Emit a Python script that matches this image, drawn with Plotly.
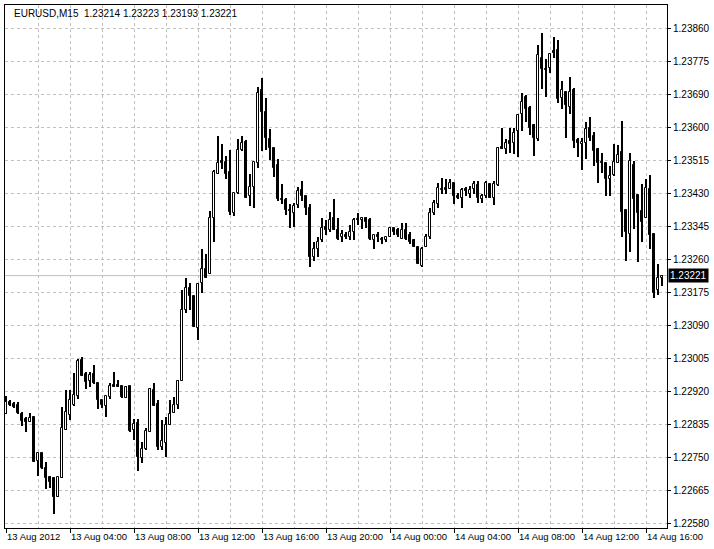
import pandas as pd
import plotly.graph_objects as go

# EURUSD M15, 13-14 Aug 2012
TIMES = pd.date_range("2012-08-13 00:00", periods=165, freq="15min")

OPEN = [
    1.22862, 1.22893, 1.22888, 1.22885, 1.22862, 1.22849, 1.22841, 1.22854, 1.22740, 1.22761,
    1.22722, 1.22699, 1.22696, 1.22647, 1.22696, 1.22820, 1.22859, 1.22885, 1.22908, 1.23002,
    1.22965, 1.22947, 1.22965, 1.22942, 1.22898, 1.22883, 1.22906, 1.22937, 1.22937, 1.22934,
    1.22903, 1.22934, 1.22820, 1.22839, 1.22748, 1.22771, 1.22815, 1.22924, 1.22888, 1.22777,
    1.22787, 1.22833, 1.22864, 1.22885, 1.22947, 1.23131, 1.23188, 1.23167, 1.23084, 1.23201,
    1.23237, 1.23226, 1.23369, 1.23485, 1.23519, 1.23516, 1.23490, 1.23382, 1.23436, 1.23547,
    1.23568, 1.23426, 1.23451, 1.23514, 1.23702, 1.23645, 1.23576, 1.23552, 1.23508, 1.23420,
    1.23418, 1.23392, 1.23384, 1.23405, 1.23444, 1.23428, 1.23397, 1.23268, 1.23291, 1.23312,
    1.23348, 1.23340, 1.23369, 1.23338, 1.23320, 1.23327, 1.23320, 1.23333, 1.23366, 1.23364,
    1.23371, 1.23366, 1.23314, 1.23327, 1.23317, 1.23312, 1.23320, 1.23345, 1.23338, 1.23317,
    1.23340, 1.23325, 1.23314, 1.23294, 1.23247, 1.23294, 1.23322, 1.23382, 1.23407, 1.23446,
    1.23449, 1.23446, 1.23462, 1.23428, 1.23423, 1.23446, 1.23433, 1.23446, 1.23457, 1.23420,
    1.23426, 1.23459, 1.23423, 1.23457, 1.23555, 1.23550, 1.23570, 1.23565, 1.23596, 1.23640,
    1.23684, 1.23656, 1.23612, 1.23576, 1.23785, 1.23757, 1.23759, 1.23803, 1.23806, 1.23682,
    1.23697, 1.23658, 1.23702, 1.23573, 1.23563, 1.23565, 1.23604, 1.23583, 1.23550, 1.23516,
    1.23514, 1.23472, 1.23482, 1.23514, 1.23542, 1.23392, 1.23330, 1.23508, 1.23431, 1.23389,
    1.23369, 1.23446, 1.23330, 1.23183, 1.23214,
]
HIGH = [
    1.22908, 1.22898, 1.22893, 1.22893, 1.22867, 1.22854, 1.22864, 1.22854, 1.22761, 1.22761,
    1.22738, 1.22702, 1.22696, 1.22699, 1.22880, 1.22924, 1.22924, 1.22968, 1.23004, 1.23009,
    1.22970, 1.22970, 1.22989, 1.22942, 1.22898, 1.22908, 1.22942, 1.22970, 1.22950, 1.22934,
    1.22934, 1.22934, 1.22849, 1.22849, 1.22789, 1.22826, 1.22929, 1.22942, 1.22898, 1.22846,
    1.22854, 1.22898, 1.22906, 1.22950, 1.23183, 1.23216, 1.23201, 1.23167, 1.23201, 1.23291,
    1.23278, 1.23389, 1.23495, 1.23583, 1.23563, 1.23532, 1.23547, 1.23436, 1.23576, 1.23583,
    1.23573, 1.23485, 1.23516, 1.23710, 1.23733, 1.23682, 1.23601, 1.23552, 1.23524, 1.23459,
    1.23423, 1.23407, 1.23410, 1.23451, 1.23467, 1.23428, 1.23407, 1.23309, 1.23320, 1.23371,
    1.23364, 1.23387, 1.23420, 1.23371, 1.23338, 1.23333, 1.23353, 1.23371, 1.23384, 1.23374,
    1.23374, 1.23369, 1.23327, 1.23333, 1.23322, 1.23320, 1.23348, 1.23345, 1.23345, 1.23358,
    1.23358, 1.23333, 1.23317, 1.23294, 1.23294, 1.23330, 1.23395, 1.23418, 1.23462, 1.23475,
    1.23472, 1.23470, 1.23462, 1.23436, 1.23449, 1.23451, 1.23454, 1.23467, 1.23467, 1.23433,
    1.23467, 1.23459, 1.23467, 1.23555, 1.23604, 1.23576, 1.23604, 1.23604, 1.23640, 1.23695,
    1.23689, 1.23661, 1.23614, 1.23819, 1.23850, 1.23782, 1.23795, 1.23839, 1.23832, 1.23726,
    1.23697, 1.23736, 1.23707, 1.23578, 1.23578, 1.23620, 1.23632, 1.23593, 1.23552, 1.23539,
    1.23514, 1.23506, 1.23563, 1.23560, 1.23622, 1.23392, 1.23539, 1.23519, 1.23431, 1.23459,
    1.23470, 1.23482, 1.23330, 1.23252, 1.23223,
]
LOW = [
    1.22862, 1.22883, 1.22877, 1.22862, 1.22831, 1.22815, 1.22841, 1.22738, 1.22702, 1.22720,
    1.22668, 1.22670, 1.22603, 1.22647, 1.22696, 1.22820, 1.22846, 1.22883, 1.22901, 1.22960,
    1.22927, 1.22932, 1.22939, 1.22875, 1.22877, 1.22854, 1.22901, 1.22932, 1.22932, 1.22903,
    1.22903, 1.22815, 1.22795, 1.22714, 1.22735, 1.22769, 1.22815, 1.22883, 1.22769, 1.22769,
    1.22751, 1.22833, 1.22864, 1.22875, 1.22947, 1.23123, 1.23131, 1.23087, 1.23053, 1.23175,
    1.23216, 1.23226, 1.23307, 1.23485, 1.23498, 1.23472, 1.23379, 1.23376, 1.23433, 1.23545,
    1.23423, 1.23402, 1.23397, 1.23501, 1.23545, 1.23547, 1.23521, 1.23477, 1.23415, 1.23407,
    1.23379, 1.23345, 1.23348, 1.23395, 1.23415, 1.23379, 1.23242, 1.23260, 1.23268, 1.23309,
    1.23325, 1.23333, 1.23340, 1.23312, 1.23309, 1.23317, 1.23314, 1.23312, 1.23351, 1.23343,
    1.23345, 1.23312, 1.23291, 1.23307, 1.23304, 1.23307, 1.23320, 1.23325, 1.23320, 1.23317,
    1.23312, 1.23304, 1.23294, 1.23250, 1.23242, 1.23294, 1.23317, 1.23379, 1.23397, 1.23433,
    1.23433, 1.23446, 1.23407, 1.23420, 1.23397, 1.23428, 1.23423, 1.23433, 1.23410, 1.23410,
    1.23423, 1.23423, 1.23405, 1.23454, 1.23550, 1.23537, 1.23539, 1.23537, 1.23529, 1.23596,
    1.23620, 1.23586, 1.23532, 1.23570, 1.23705, 1.23684, 1.23746, 1.23785, 1.23669, 1.23653,
    1.23578, 1.23640, 1.23552, 1.23527, 1.23495, 1.23524, 1.23570, 1.23506, 1.23462, 1.23488,
    1.23428, 1.23428, 1.23480, 1.23514, 1.23320, 1.23260, 1.23281, 1.23343, 1.23255, 1.23309,
    1.23369, 1.23289, 1.23164, 1.23170, 1.23193,
]
CLOSE = [
    1.22893, 1.22885, 1.22880, 1.22864, 1.22844, 1.22841, 1.22851, 1.22738, 1.22761, 1.22722,
    1.22696, 1.22686, 1.22647, 1.22699, 1.22826, 1.22867, 1.22898, 1.22911, 1.22999, 1.22960,
    1.22945, 1.22963, 1.22942, 1.22898, 1.22885, 1.22908, 1.22934, 1.22932, 1.22932, 1.22906,
    1.22932, 1.22818, 1.22836, 1.22751, 1.22771, 1.22818, 1.22927, 1.22883, 1.22777, 1.22792,
    1.22833, 1.22862, 1.22885, 1.22947, 1.23133, 1.23188, 1.23167, 1.23087, 1.23198, 1.23239,
    1.23216, 1.23371, 1.23490, 1.23514, 1.23514, 1.23485, 1.23387, 1.23436, 1.23547, 1.23565,
    1.23423, 1.23451, 1.23516, 1.23695, 1.23645, 1.23578, 1.23552, 1.23501, 1.23420, 1.23418,
    1.23392, 1.23389, 1.23402, 1.23439, 1.23426, 1.23397, 1.23270, 1.23291, 1.23309, 1.23345,
    1.23338, 1.23366, 1.23340, 1.23317, 1.23330, 1.23320, 1.23335, 1.23366, 1.23364, 1.23371,
    1.23361, 1.23317, 1.23325, 1.23320, 1.23314, 1.23320, 1.23345, 1.23335, 1.23325, 1.23338,
    1.23317, 1.23309, 1.23294, 1.23252, 1.23291, 1.23320, 1.23382, 1.23410, 1.23449, 1.23444,
    1.23444, 1.23462, 1.23428, 1.23423, 1.23444, 1.23439, 1.23444, 1.23459, 1.23423, 1.23428,
    1.23462, 1.23423, 1.23459, 1.23552, 1.23550, 1.23565, 1.23563, 1.23591, 1.23638, 1.23671,
    1.23653, 1.23604, 1.23578, 1.23793, 1.23757, 1.23754, 1.23795, 1.23798, 1.23679, 1.23702,
    1.23664, 1.23697, 1.23570, 1.23565, 1.23568, 1.23601, 1.23578, 1.23545, 1.23514, 1.23514,
    1.23472, 1.23480, 1.23516, 1.23534, 1.23387, 1.23333, 1.23519, 1.23420, 1.23384, 1.23361,
    1.23449, 1.23327, 1.23177, 1.23214, 1.23221,
]

X_LABELS = ["13 Aug 2012", "13 Aug 04:00", "13 Aug 08:00", "13 Aug 12:00",
            "13 Aug 16:00", "13 Aug 20:00", "14 Aug 00:00", "14 Aug 04:00",
            "14 Aug 08:00", "14 Aug 12:00", "14 Aug 16:00"]
Y_LABELS = ["1.22580", "1.22665", "1.22750", "1.22835", "1.22920", "1.23005",
            "1.23090", "1.23175", "1.23260", "1.23345", "1.23430", "1.23515",
            "1.23600", "1.23690", "1.23775", "1.23860"]

SYMBOL = "EURUSD,M15"
BID = CLOSE[-1]

FONT = "Liberation Sans"
GRID = "#c0c0c0"

# terminal rounds its labels, the grid itself is evenly spaced
y0, y1 = float(Y_LABELS[0]), float(Y_LABELS[-1])
step = (y1 - y0) / (len(Y_LABELS) - 1)
ytickvals = [y0 + k * step for k in range(len(Y_LABELS))]
px_price = step / 33.0

bar = pd.Timedelta(minutes=15)
bar_ms = bar.total_seconds() * 1000
xr = [TIMES[0] - bar / 4, TIMES[-1] + bar * 1.25]

body_lo = [min(o, c) for o, c in zip(OPEN, CLOSE)]
body_h = [max(abs(c - o), px_price) for o, c in zip(OPEN, CLOSE)]
body_col = ["white" if c > o else "black" for o, c in zip(OPEN, CLOSE)]
wick_h = [h - l for h, l in zip(HIGH, LOW)]

fig = go.Figure()
# wicks
fig.add_trace(go.Bar(
    x=TIMES, y=wick_h, base=LOW, width=bar_ms * 0.25,
    marker=dict(color="black", line=dict(width=0)), hoverinfo="skip",
))
# bodies
fig.add_trace(go.Bar(
    x=TIMES, y=body_h, base=body_lo, width=bar_ms * 0.5,
    marker=dict(color=body_col, line=dict(color="black", width=1)), hoverinfo="skip",
))

# bid line
fig.add_shape(type="line", xref="paper", x0=0, x1=1, y0=BID, y1=BID,
              line=dict(color="#c0c0c0", width=1), layer="below")

fig.add_annotation(xref="paper", x=1, y=BID, xanchor="left", yanchor="middle",
                   text="%.5f" % BID, showarrow=False, xshift=1,
                   bgcolor="black", font=dict(color="white", size=10, family=FONT),
                   borderpad=1)

hdr = "%s\u00a0\u00a0%.5f %.5f %.5f %.5f" % (SYMBOL, OPEN[-1], HIGH[-1], LOW[-1], CLOSE[-1])
fig.add_annotation(xref="paper", yref="paper", x=0, y=1, xanchor="left", yanchor="top",
                   text=hdr, showarrow=False, xshift=7, yshift=-1,
                   font=dict(color="black", size=10, family=FONT))

fig.update_xaxes(
    type="date", range=xr,
    tickmode="array", tickvals=list(TIMES[::16]), ticktext=X_LABELS, tickangle=0,
    ticks="outside", ticklen=4, tickcolor="black", ticklabelposition="outside right",
    showgrid=True, gridcolor=GRID, griddash="3px,3px", gridwidth=1,
    minor=dict(tickvals=list(TIMES[8::16]), showgrid=True, gridcolor=GRID,
               griddash="3px,3px", ticks=""),
    showline=True, mirror=True, linecolor="black", linewidth=1,
    tickfont=dict(size=9.5, family=FONT, color="black"),
    zeroline=False,
)
fig.update_yaxes(
    side="right", range=[y0 - 5 * px_price, y1 + 24 * px_price],
    tickmode="array", tickvals=ytickvals, ticktext=Y_LABELS,
    ticks="outside", ticklen=3, tickcolor="black",
    showgrid=True, gridcolor=GRID, griddash="3px,3px", gridwidth=1,
    showline=True, mirror=True, linecolor="black", linewidth=1,
    tickfont=dict(size=10, family=FONT, color="black"),
    zeroline=False,
)
fig.update_layout(
    width=714, height=549,
    margin=dict(l=4, r=44, t=4, b=21),
    paper_bgcolor="white", plot_bgcolor="white",
    barmode="overlay", bargap=0,
    showlegend=False,
)

fig.write_html("out.html", config={"displayModeBar": False},
               post_script="document.body.style.margin='0';")
